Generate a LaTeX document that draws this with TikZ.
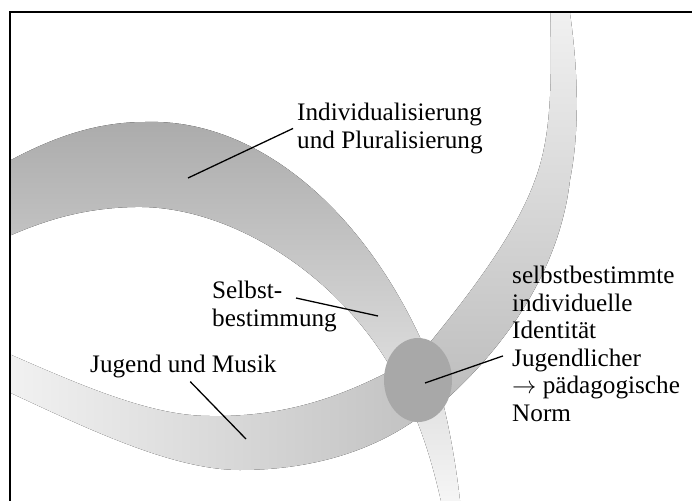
\documentclass[tikz,border=0pt]{standalone}
\usepackage{fontspec}
\setmainfont{Liberation Serif}
\usetikzlibrary{shapes.geometric,calc}

\begin{document}
\begin{tikzpicture}[x=0.03cm,y=-0.03cm,
    leader/.style={line width=1.1pt},
    lbl/.style={inner sep=0.12cm,align=left,font=\fontsize{21.5pt}{23.5pt}\selectfont}]
    \useasboundingbox (0,0) rectangle (692,501);

    %/ Bands
    \begin{scope}
    \clip (10,12) rectangle (692,501);
    % upper band
    \fill[top color=black!33,middle color=black!21,bottom color=black!3]
        (0,166) .. controls (50,138) and (95,122) .. (145,122)
        .. controls (260,118) and (370,215) .. (430,360)
        .. controls (442,390) and (455,450) .. (461,510)
        -- (443,510)
        .. controls (432,460) and (420,420) .. (395,375)
        .. controls (340,275) and (230,205) .. (135,207)
        .. controls (80,208) and (40,222) .. (0,240) -- cycle;
    % lower band, left part
    \fill[left color=black!5,right color=black!25]
        (0,350) .. controls (80,385) and (150,416) .. (210,416)
        .. controls (280,417) and (340,400) .. (410,360)
        -- (445,395)
        .. controls (400,440) and (330,470) .. (240,470)
        .. controls (170,470) and (80,425) .. (0,388) -- cycle;
    % lower band, right part
    \fill[top color=black!5,bottom color=black!26]
        (395,385) .. controls (440,330) and (510,250) .. (535,180)
        .. controls (552,135) and (552,80) .. (550,0)
        -- (568,0)
        .. controls (576,50) and (582,120) .. (570,180)
        .. controls (562,250) and (525,330) .. (440,405) -- cycle;
    \end{scope}

    %/ Frame
    \draw[line width=0.06cm] (10,520) -- (10,12) -- (700,12);

    %/ Centre
    \node[ellipse,fill=black!34,inner sep=0,minimum width=2.04cm,minimum height=2.52cm] (ell) at (418,380) {};

    %/ Labels
    \node[lbl,anchor=north west] (ind) at (293,99) {Individualisierung\\und Pluralisierung};
    \node[lbl,anchor=north west] (selb) at (208,277) {Selbst-\\bestimmung};
    \node[lbl,anchor=base west] (jug) at (86,372) {Jugend und Musik};
    \node[lbl,anchor=north west] (idn) at (508,262) {selbstbestimmte\\individuelle\\Identität\\Jugendlicher\\$\rightarrow$ pädagogische\\Norm};

    %/ Leaders
    \coordinate (indTip) at (188,178);
    \coordinate (selbTip) at (378,316);
    \coordinate (jugTip) at (246,439);
    \draw[leader] (indTip) -- (ind.west);
    \draw[leader] (selbTip) -- ($(selb.north west)+(88,21)$);
    \draw[leader] (jugTip) -- ($(jug.south)+(7,0)$);
    \draw[leader] ($(ell.center)+(7,3)$) -- ($(idn.west)+(-5,12)$);
\end{tikzpicture}
\end{document}
